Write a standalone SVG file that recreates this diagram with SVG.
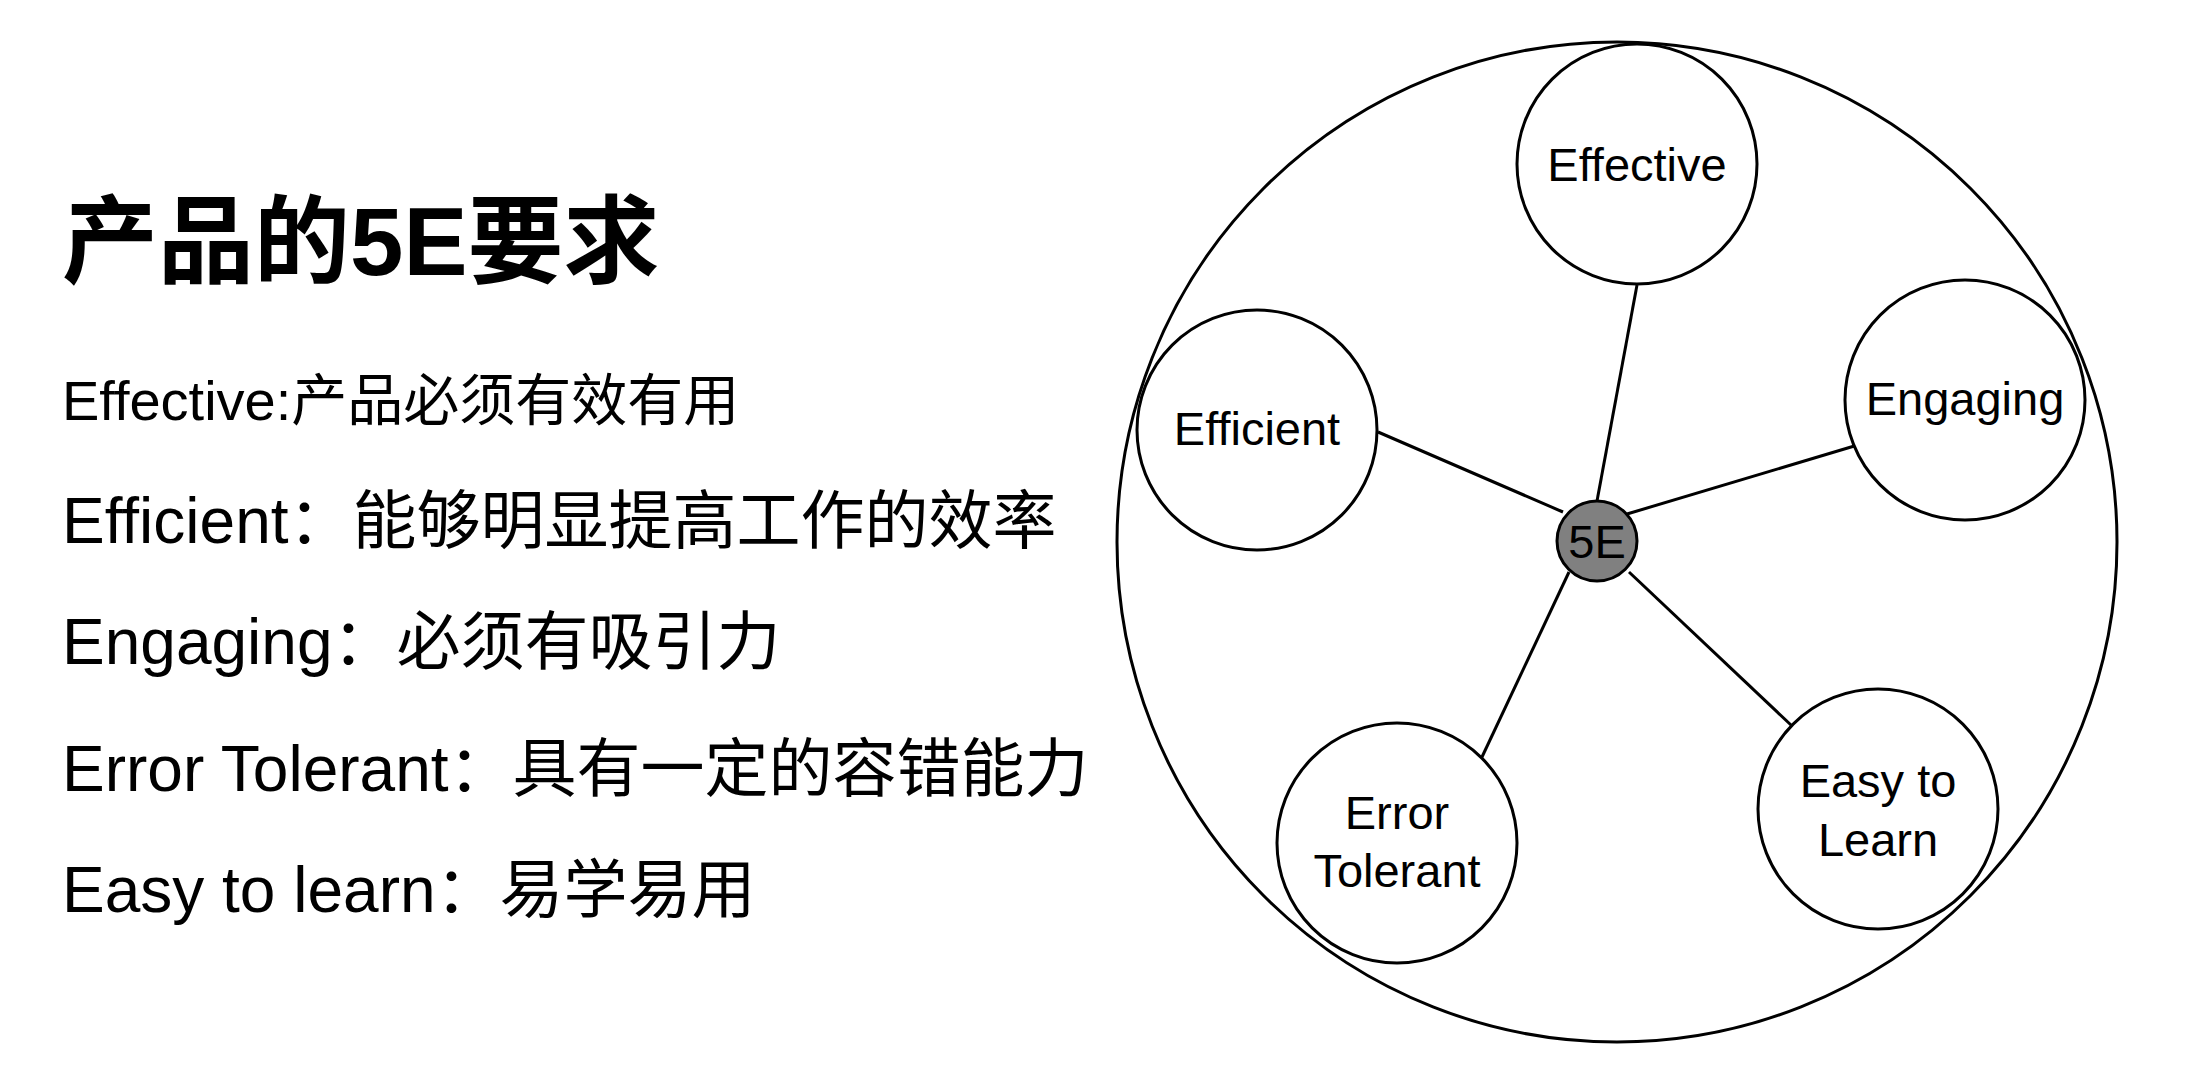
<svg xmlns="http://www.w3.org/2000/svg" width="2208" height="1088" viewBox="0 0 2208 1088">
<style>
text{font-family:"Liberation Sans","Noto Sans CJK SC",sans-serif;fill:#000}
.title{font-size:96px;font-weight:bold}
.body{font-size:64px}
.small{font-size:56px}
.node circle{fill:#fff;stroke:#000;stroke-width:3}
.node text{font-size:47px;text-anchor:middle}
#connectors line{stroke:#000;stroke-width:3}
</style>
<rect width="2208" height="1088" fill="#fff"/>
<g id="text-block">
<text class="title" x="62" y="275">产品的5E要求</text>
<text class="small" x="62" y="420">Effective:产品必须有效有用</text>
<text class="body" x="62" y="543">Efficient：能够明显提高工作的效率</text>
<text class="body" x="62" y="664">Engaging：必须有吸引力</text>
<text class="body" x="62" y="791">Error Tolerant：具有一定的容错能力</text>
<text class="body" x="62" y="912">Easy to learn：易学易用</text>
</g>
<circle id="outer" cx="1617" cy="542" r="500" fill="none" stroke="#000" stroke-width="3"/>
<g id="connectors">
<line x1="1597" y1="501" x2="1637" y2="285"/>
<line x1="1627" y1="514" x2="1861" y2="444"/>
<line x1="1563" y1="512" x2="1378" y2="432"/>
<line x1="1569" y1="572" x2="1482" y2="757"/>
<line x1="1629" y1="572" x2="1791" y2="725"/>
</g>
<g id="node-effective" class="node"><circle cx="1637" cy="164" r="120"/><text x="1637" y="181">Effective</text></g>
<g id="node-engaging" class="node"><circle cx="1965" cy="400" r="120"/><text x="1965" y="415">Engaging</text></g>
<g id="node-efficient" class="node"><circle cx="1257" cy="430" r="120"/><text x="1257" y="445">Efficient</text></g>
<g id="node-error" class="node"><circle cx="1397" cy="843" r="120"/><text x="1397" y="829">Error</text><text x="1397" y="887">Tolerant</text></g>
<g id="node-easy" class="node"><circle cx="1878" cy="809" r="120"/><text x="1878" y="797">Easy to</text><text x="1878" y="856">Learn</text></g>
<g id="node-5e" class="node"><circle cx="1597" cy="541" r="40" style="fill:#808080"/><text x="1597" y="558">5E</text></g>
</svg>
